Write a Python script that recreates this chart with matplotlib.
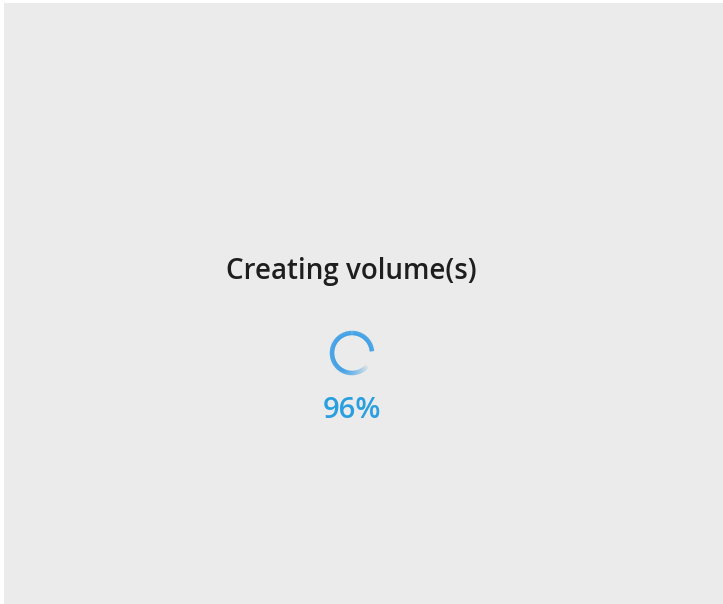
import numpy as np
import matplotlib
matplotlib.use("Agg")
import matplotlib.pyplot as plt
from matplotlib.collections import LineCollection
from matplotlib.colors import to_rgba

title_text = "Creating volume(s)"
progress_value = 96
progress_label = f"{progress_value}%"

W, H = 723, 604
fig = plt.figure(figsize=(W / 100, H / 100), dpi=100, facecolor="white")
ax = fig.add_axes([4 / W, 0, 1 - 4 / W, 1 - 3 / H])
ax.set_facecolor("#ebebeb")
ax.set_xlim(4, W)
ax.set_ylim(H, 3)
ax.set_xticks([])
ax.set_yticks([])
for s in ax.spines.values():
    s.set_visible(False)

ax.text(351, 271, title_text, ha="center", va="center", fontsize=20,
        family="Open Sans", fontweight="semibold", color="#1e1e1e")

# spinner arc (screen coords, y down)
cx, cy, r = 352, 353, 20
theta = np.linspace(np.deg2rad(-5), np.deg2rad(-5 - 315), 240)
xs = cx + r * np.cos(theta)
ys = cy + r * np.sin(theta)
pts = np.column_stack([xs, ys])
segs = np.stack([pts[:-1], pts[1:]], axis=1)
base = np.array(to_rgba("#0f8be6"))
n = len(segs)
alphas = np.ones(n)
fade = int(n * 0.25)
alphas[-fade:] = np.linspace(1, 0.05, fade)
cols = np.tile(base, (n, 1))
cols[:, 3] = alphas
lc = LineCollection(segs, colors=cols, linewidths=3.2, capstyle="butt")
ax.add_collection(lc)

ax.text(352, 410, progress_label, ha="center", va="center", fontsize=21,
        family="Open Sans", fontweight="semibold", color="#2a9fe0")

fig.savefig("out.png", dpi=100, facecolor="white")
